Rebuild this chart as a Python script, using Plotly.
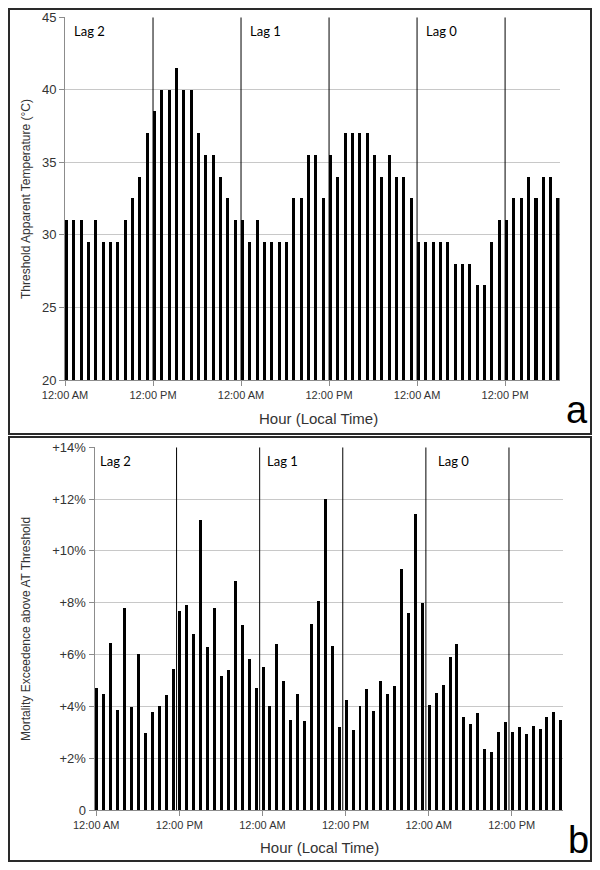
import plotly.graph_objects as go

# ---------------- data ----------------
hours = list(range(68))  # hourly bins, 3 days (Lag 2, Lag 1, Lag 0)
threshold_at = [31, 31, 31, 29.5, 31, 29.5, 29.5, 29.5, 31, 32.5, 34, 37,
                38.5, 40, 40, 41.5, 40, 40, 37, 35.5, 35.5, 34, 32.5, 31,
                31, 29.5, 31, 29.5, 29.5, 29.5, 29.5, 32.5, 32.5, 35.5, 35.5, 32.5,
                35.5, 34, 37, 37, 37, 37, 35.5, 34, 35.5, 34, 34, 32.5,
                29.5, 29.5, 29.5, 29.5, 29.5, 28, 28, 28, 26.5, 26.5, 29.5, 31,
                31, 32.5, 32.5, 34, 32.5, 34, 34, 32.5]
mortality_pct = [4.7, 4.45, 6.45, 3.85, 7.8, 3.95, 6.0, 2.97, 3.77, 4.02, 4.43, 5.43,
                 7.67, 7.9, 6.78, 11.17, 6.28, 7.77, 5.17, 5.38, 8.84, 7.14, 5.83, 4.71,
                 5.52, 3.99, 6.4, 4.98, 3.46, 4.48, 3.42, 7.18, 8.04, 12.0, 6.32, 3.18,
                 4.25, 3.08, 3.99, 4.66, 3.82, 4.98, 4.48, 4.77, 9.29, 7.59, 11.43, 7.97,
                 4.05, 4.5, 4.83, 5.88, 6.4, 3.58, 3.32, 3.72, 2.36, 2.21, 2.99, 3.38,
                 3.0, 3.18, 2.92, 3.24, 3.1, 3.59, 3.77, 3.45]
tick_hours = [0, 12, 24, 36, 48, 60]
tick_labels = ["12:00 AM", "12:00 PM", "12:00 AM", "12:00 PM", "12:00 AM", "12:00 PM"]
lag_labels = ["Lag 2", "Lag 1", "Lag 0"]
temp_ticks = [20, 25, 30, 35, 40, 45]
mort_ticks = [0, 2, 4, 6, 8, 10, 12, 14]
mort_tick_labels = ["0", "+2%", "+4%", "+6%", "+8%", "+10%", "+12%", "+14%"]

# the page body has an 8px margin; size the figure so it fits the 600x870 window
OFF = 8
W, H = 600 - 2 * OFF, 870 - 2 * OFF
FONT = "Liberation Sans"
TXT = "#333333"
GRID = "#c8c8c8"
AXC = "#8c8c8c"

def px(x):
    return (x - OFF) / W

def py(y):
    return 1 - (y - OFF) / H

fig = go.Figure()
fig.add_trace(go.Bar(x=hours, y=threshold_at, width=0.42, offset=0,
                     marker=dict(color="black", line=dict(width=0)),
                     xaxis="x", yaxis="y", showlegend=False))
fig.add_trace(go.Bar(x=hours, y=mortality_pct, width=0.43, offset=0,
                     marker=dict(color="black", line=dict(width=0)),
                     xaxis="x2", yaxis="y2", showlegend=False))

tickfont = dict(family=FONT, size=11, color=TXT)
common_x = dict(showgrid=False, zeroline=False, showline=True, linecolor=AXC,
                linewidth=1, ticks="outside", ticklen=5, tickcolor=AXC,
                tickfont=tickfont, fixedrange=True, automargin=False)
common_y = dict(showgrid=True, gridcolor=GRID, gridwidth=1, zeroline=False,
                showline=True, linecolor=AXC, linewidth=1, ticks="outside",
                ticklen=5, tickcolor=AXC, automargin=False,
                tickfont=dict(family=FONT, size=13, color=TXT))

fig.update_layout(
    width=W, height=H, margin=dict(l=0, r=0, t=0, b=0, pad=0, autoexpand=False),
    paper_bgcolor="white", plot_bgcolor="white", bargap=0, showlegend=False,
    xaxis=dict(domain=[px(65), px(559.5)], range=[0, 67.42], anchor="y",
               tickvals=tick_hours, ticktext=tick_labels, **common_x),
    yaxis=dict(domain=[py(380), py(17.3)], range=[20, 45], anchor="x",
               tickvals=temp_ticks, **common_y),
    xaxis2=dict(domain=[px(94.5), px(563)], range=[-0.05, 67.6], anchor="y2",
                tickvals=[h + 0.2 for h in tick_hours], ticktext=tick_labels, **common_x),
    yaxis2=dict(domain=[py(810), py(447.3)], range=[0, 14], anchor="x2",
                tickvals=mort_ticks, ticktext=mort_tick_labels, **common_y),
)

shapes = []
# half-day dividers
for h in tick_hours[1:]:
    shapes.append(dict(type="line", xref="x", yref="y", x0=h, x1=h, y0=20, y1=45,
                       line=dict(color="black", width=1)))
    shapes.append(dict(type="line", xref="x2", yref="y2", x0=h - 0.2, x1=h - 0.2, y0=0, y1=14,
                       line=dict(color="black", width=1)))
# panel boxes (clamped to the visible figure area)
bx0, bx1 = 1 / W, (W - 1) / W
shapes.append(dict(type="rect", xref="paper", yref="paper", x0=bx0, x1=bx1,
                   y0=py(434), y1=1 - 1 / H, line=dict(color="#2a2a2a", width=2)))
shapes.append(dict(type="rect", xref="paper", yref="paper", x0=bx0, x1=bx1,
                   y0=1 / H, y1=py(437), line=dict(color="#2a2a2a", width=2)))
fig.update_layout(shapes=shapes)

ann = []
lagfont = dict(family="Lato", size=13, color="black")
top_lag_x = [1, 25, 49]
bot_lag_x = [0.5, 24.6, 49.3]
for lbl, x1, x2 in zip(lag_labels, top_lag_x, bot_lag_x):
    ann.append(dict(text=lbl, x=x1, y=44.06, xref="x", yref="y", xanchor="left",
                    yanchor="middle", showarrow=False, font=lagfont))
    ann.append(dict(text=lbl, x=x2, y=13.47, xref="x2", yref="y2", xanchor="left",
                    yanchor="middle", showarrow=False, font=lagfont))
ann += [
    dict(text="Threshold Apparent Temperature (°C)", x=px(26), y=py(199), xref="paper",
         yref="paper", textangle=-90, showarrow=False, xanchor="center", yanchor="middle",
         font=dict(family=FONT, size=12, color=TXT)),
    dict(text="Mortality Exceedence above AT Threshold", x=px(26), y=py(629), xref="paper",
         yref="paper", textangle=-90, showarrow=False, xanchor="center", yanchor="middle",
         font=dict(family=FONT, size=12, color=TXT)),
    dict(text="Hour (Local Time)", x=px(318), y=py(418), xref="paper", yref="paper",
         showarrow=False, xanchor="center", yanchor="middle",
         font=dict(family=FONT, size=15, color=TXT)),
    dict(text="Hour (Local Time)", x=px(319), y=py(847), xref="paper", yref="paper",
         showarrow=False, xanchor="center", yanchor="middle",
         font=dict(family=FONT, size=15, color=TXT)),
    dict(text="a", x=px(577), y=py(410), xref="paper", yref="paper", showarrow=False,
         xanchor="center", yanchor="middle", font=dict(family=FONT, size=38, color="black")),
    dict(text="b", x=px(578), y=py(840), xref="paper", yref="paper", showarrow=False,
         xanchor="center", yanchor="middle", font=dict(family=FONT, size=38, color="black")),
]
fig.update_layout(annotations=ann)

fig.write_html("out.html")
